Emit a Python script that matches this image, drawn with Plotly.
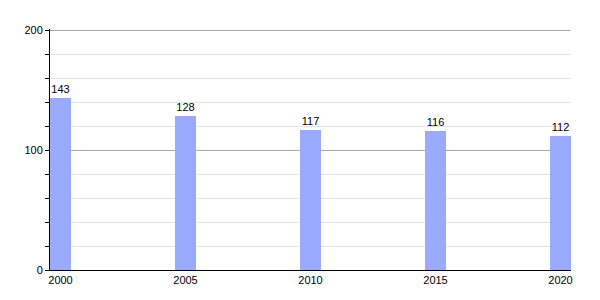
import plotly.graph_objects as go

years = [2000, 2005, 2010, 2015, 2020]
values = [143, 128, 117, 116, 112]
year_labels = ["2000", "2005", "2010", "2015", "2020"]
y_ticks = [0, 100, 200]
y_minor = [20, 40, 60, 80, 120, 140, 160, 180]

fig = go.Figure(go.Bar(
    x=years, y=values, width=0.84,
    marker=dict(color="#99aaff", line=dict(width=0)),
    text=[str(v) for v in values], textposition="outside",
    textfont=dict(family="Liberation Sans, Arial, sans-serif", size=11, color="black"),
    cliponaxis=False,
))

fig.update_layout(
    width=600, height=300,
    margin=dict(l=50, r=29, t=29, b=30),
    paper_bgcolor="white", plot_bgcolor="white",
    showlegend=False,
    font=dict(family="Liberation Sans, Arial, sans-serif", size=11, color="black"),
    xaxis=dict(
        range=[1999.58, 2020.42],
        tickvals=years, ticktext=year_labels,
        showgrid=False, zeroline=False,
        showline=True, linecolor="black", linewidth=1,
        ticks="", ticklen=0,
        tickfont=dict(size=11),
    ),
    yaxis=dict(
        range=[0, 200.84],
        tickvals=y_ticks,
        showgrid=True, gridcolor="#aaaaaa", gridwidth=1,
        zeroline=False,
        showline=True, linecolor="black", linewidth=1,
        ticks="outside", ticklen=4, tickcolor="black",
        tickfont=dict(size=11),
        minor=dict(tickvals=y_minor, showgrid=True, gridcolor="#e4e4e4", gridwidth=1,
                   ticks="outside", ticklen=4, tickcolor="black"),
    ),
    bargap=0,
)

fig.write_html("out.html")
